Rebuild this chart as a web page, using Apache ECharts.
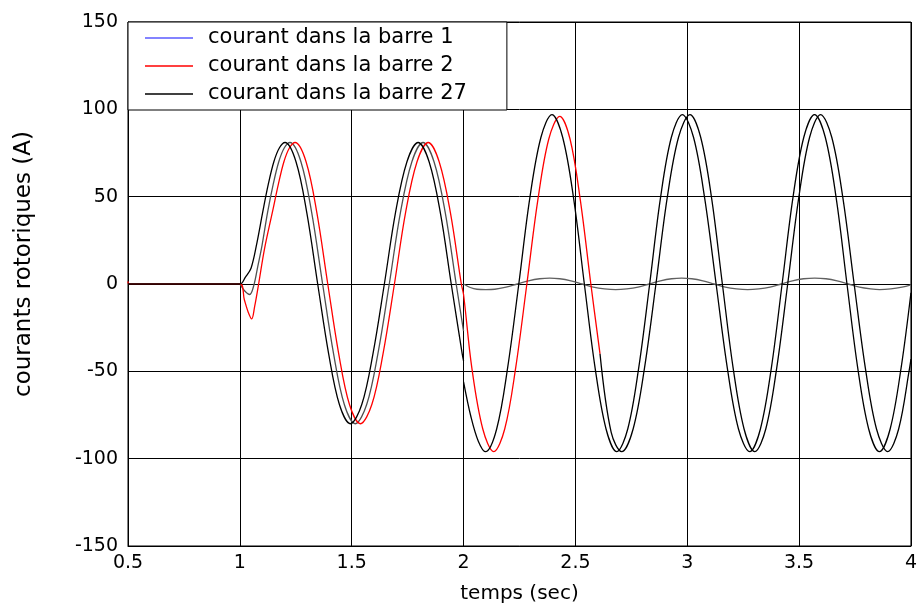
<!DOCTYPE html>
<html>
<head>
<meta charset="utf-8">
<script src="https://cdn.jsdelivr.net/npm/echarts@6/dist/echarts.min.js"></script>
<style>
html,body{margin:0;padding:0;background:#fff;}
#chart{width:920px;height:613px;}
</style>
</head>
<body>
<div id="chart"></div>
<script>
// Legend / series names
const seriesNames = ['courant dans la barre 1', 'courant dans la barre 2', 'courant dans la barre 27'];
const xTicks = [0.5, 1, 1.5, 2, 2.5, 3, 3.5, 4];
const yTicks = [-150, -100, -50, 0, 50, 100, 150];

// Bar 1 (drawn dark grey), before the break at t = 2 s
const tG1 = [1.0, 1.022, 1.044, 1.062, 1.08, 1.099, 1.124, 1.149, 1.174, 1.199, 1.224, 1.273, 1.321, 1.370, 1.419, 1.467, 1.516, 1.567, 1.617, 1.668, 1.718, 1.769, 1.819, 1.868, 1.918, 1.967, 2.0];
const iG1 = [0, -4, -6, -1, 10, 22, 41, 57, 70, 78, 81, 70, 41, 0, -40, -69, -80, -69, -40, 0, 41, 70, 81, 70, 41, 0, -27];
// Bar 1 after t = 2 s (small residual current)
const tG2 = [2.0, 2.03, 2.06, 2.1, 2.14, 2.19, 2.24, 2.29, 2.34, 2.385, 2.43, 2.48, 2.53, 2.58, 2.63, 2.68, 2.73, 2.78, 2.83, 2.88, 2.93, 2.975, 3.02, 3.07, 3.12, 3.17, 3.22, 3.27, 3.32, 3.37, 3.42, 3.47, 3.52, 3.57, 3.62, 3.67, 3.72, 3.77, 3.82, 3.86, 3.91, 3.96, 4.0];
const iG2 = [0, -2, -3, -3.2, -3, -1.8, 0, 1.8, 3, 3.4, 3, 1.8, 0, -1.8, -2.8, -3.2, -2.8, -1.8, 0, 1.8, 3, 3.4, 3, 1.8, 0, -1.8, -2.8, -3.2, -2.8, -1.8, 0, 1.8, 3, 3.4, 3, 1.8, 0, -1.8, -2.8, -3.2, -2.8, -1.8, -0.5];

// Bar 2 (red)
const tR = [0.5, 0.505, 1.0, 1.02, 1.037, 1.053, 1.066, 1.084, 1.11, 1.147, 1.172, 1.197, 1.222, 1.247, 1.296, 1.344, 1.393, 1.442, 1.490, 1.539, 1.590, 1.640, 1.691, 1.741, 1.792, 1.842, 1.891, 1.941, 1.99, 2.0, 2.037, 2.086, 2.135, 2.184, 2.233, 2.283, 2.332, 2.381, 2.43, 2.476, 2.522, 2.569, 2.61];
const iR = [1.5, 0, 0, -9, -16, -20, -13, 0, 20, 42, 57, 70, 78, 81, 70, 41, 0, -40, -69, -80, -69, -40, 0, 41, 70, 81, 70, 41, 0, -6, -48, -83, -96, -83, -48, 0, 48, 83, 96, 83, 48, 0, -40];

// Bar 27 (black, leading), before and after t = 2 s
const tK1 = [0.5, 1.0, 1.025, 1.05, 1.077, 1.102, 1.127, 1.152, 1.177, 1.202, 1.251, 1.299, 1.348, 1.397, 1.445, 1.494, 1.545, 1.595, 1.646, 1.696, 1.747, 1.797, 1.846, 1.896, 1.945, 1.994, 2.0];
const iK1 = [0, 0, 4, 9, 24, 41, 57, 70, 78, 81, 70, 41, 0, -40, -69, -80, -69, -40, 0, 41, 70, 81, 70, 41, 0, -40, -44];
const tK2 = [2.0, 2.033, 2.066, 2.098, 2.148, 2.197, 2.247, 2.296, 2.346, 2.395, 2.443, 2.492, 2.540, 2.588, 2.637, 2.685, 2.734, 2.783, 2.832, 2.880, 2.929, 2.978, 3.028, 3.078, 3.129, 3.179, 3.229, 3.279, 3.327, 3.376, 3.424, 3.472, 3.521, 3.569, 3.617, 3.666, 3.714, 3.762, 3.811, 3.859, 3.907, 3.956, 4.0];
const iK2 = [-56, -76, -90, -96, -83, -48, 0, 49, 84, 97, 84, 49, 0, -48, -83, -96, -83, -48, 0, 49, 84, 97, 84, 49, 0, -48, -83, -96, -83, -48, 0, 49, 84, 97, 84, 49, 0, -48, -83, -96, -83, -48, -5];

// Second black (lagging) trace, visible after the red one stops
const tL = [2.61, 2.66, 2.707, 2.758, 2.809, 2.860, 2.910, 2.961, 3.012, 3.060, 3.109, 3.157, 3.205, 3.254, 3.302, 3.351, 3.400, 3.449, 3.498, 3.547, 3.596, 3.646, 3.696, 3.746, 3.796, 3.846, 3.896, 3.945, 3.994, 4.0];
const iL = [-40, -85, -96, -83, -48, 0, 49, 84, 97, 84, 49, 0, -48, -83, -96, -83, -48, 0, 49, 84, 97, 84, 49, 0, -48, -83, -96, -83, -48, -43];

function zip(t, v) { return t.map((x, k) => [x, v[k]]); }

const FONT = 'DejaVu Sans';
const chart = echarts.init(document.getElementById('chart'), null, {renderer: 'canvas'});

function lineSeries(name, data, color, z) {
  return {
    type: 'line', name: name, data: data, symbol: 'none', smooth: 0.35,
    lineStyle: {color: color, width: 1.3}, itemStyle: {color: color},
    z: z, animation: false, silent: true
  };
}

chart.setOption({
  animation: false,
  backgroundColor: '#ffffff',
  grid: {left: 128, right: 6, top: 22, bottom: 67, show: true, borderColor: '#000', borderWidth: 1, containLabel: false},
  legend: {
    orient: 'vertical', left: 128, top: 22,
    backgroundColor: '#ffffff', borderColor: '#000', borderWidth: 1,
    padding: [3, 40, 3, 17],
    icon: 'rect',
    itemWidth: 48, itemHeight: 1.6, itemGap: 2,
    textStyle: {fontFamily: FONT, fontSize: 21, color: '#000', lineHeight: 26, padding: [0, 0, 0, 10]},
    selectedMode: false,
    data: [
      {name: seriesNames[0], itemStyle: {color: '#5a5aff'}},
      {name: seriesNames[1], itemStyle: {color: '#ff0000'}},
      {name: seriesNames[2], itemStyle: {color: '#000000'}}
    ]
  },
  xAxis: {
    type: 'value', min: xTicks[0], max: xTicks[xTicks.length - 1], interval: 0.5,
    axisLine: {show: true, onZero: false, lineStyle: {color: '#000', width: 1}},
    axisTick: {show: false},
    splitLine: {show: true, lineStyle: {color: '#000', width: 1}},
    axisLabel: {color: '#000', fontFamily: FONT, fontSize: 19, margin: 8},
    name: 'temps (sec)', nameLocation: 'middle', nameGap: 38,
    nameTextStyle: {color: '#000', fontFamily: FONT, fontSize: 20}
  },
  yAxis: {
    type: 'value', min: yTicks[0], max: yTicks[yTicks.length - 1], interval: 50,
    axisLine: {show: true, onZero: false, lineStyle: {color: '#000', width: 1}},
    axisTick: {show: false},
    splitLine: {show: true, lineStyle: {color: '#000', width: 1}},
    axisLabel: {color: '#000', fontFamily: FONT, fontSize: 19, margin: 10},
    name: 'courants rotoriques (A)', nameLocation: 'middle', nameGap: 92,
    nameTextStyle: {color: '#000', fontFamily: FONT, fontSize: 23, padding: [0, 0, 0, 40]}
  },
  series: [
    lineSeries(seriesNames[0], zip(tG1, iG1), '#505050', 2),
    lineSeries(seriesNames[0], zip(tG2, iG2), '#606060', 2),
    lineSeries(seriesNames[1], zip(tR, iR), '#ff0000', 3),
    lineSeries(seriesNames[2], zip(tK1, iK1), '#000000', 4),
    lineSeries(seriesNames[2], zip(tK2, iK2), '#000000', 4),
    lineSeries(seriesNames[2], zip(tL, iL), '#000000', 4)
  ]
});
</script>
</body>
</html>
